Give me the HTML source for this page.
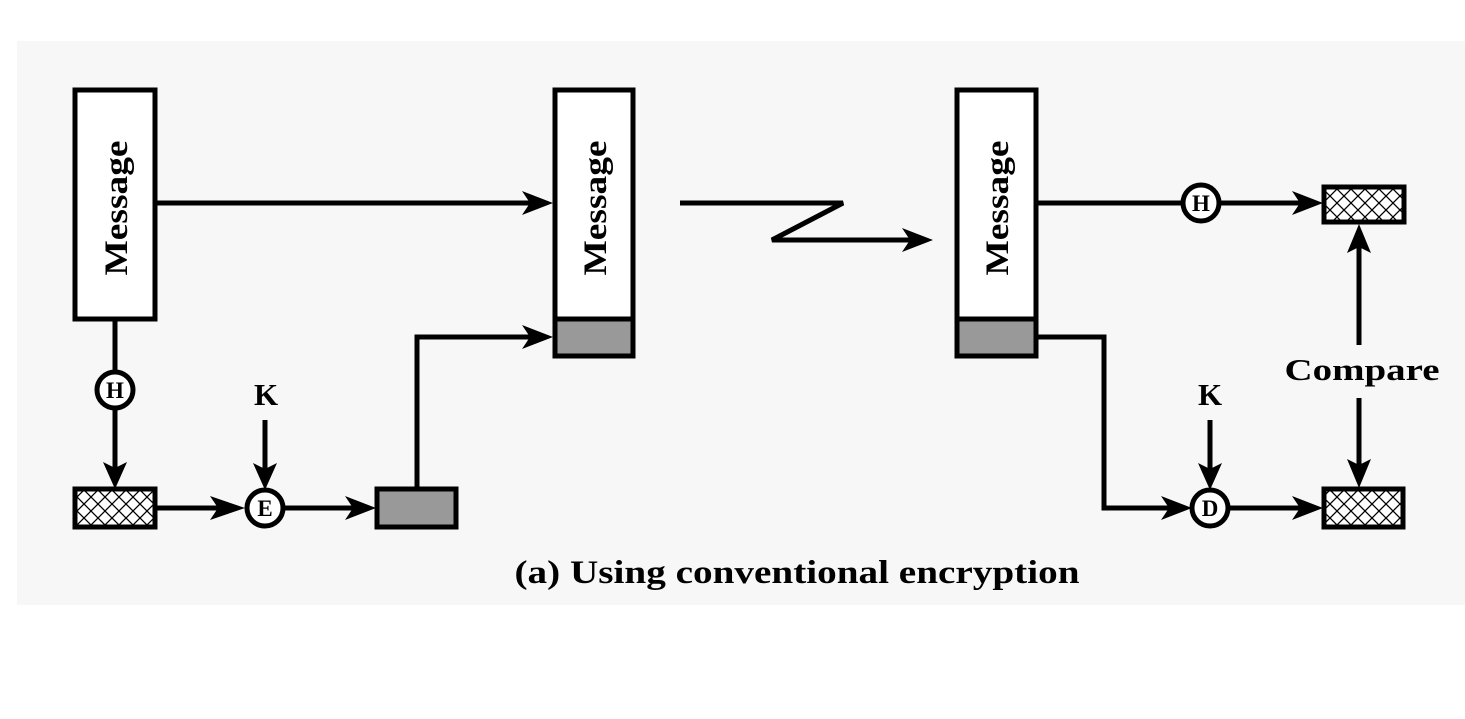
<!DOCTYPE html>
<html><head><style>
body{margin:0;background:#fff;width:1465px;height:714px;overflow:hidden}
text{font-family:"Liberation Serif",serif;font-weight:bold;fill:#000}
</style></head><body>
<svg width="1465" height="714" viewBox="0 0 1465 714" xmlns="http://www.w3.org/2000/svg">
<defs>
<pattern id="hx" width="14" height="14" patternUnits="userSpaceOnUse">
<rect width="14" height="14" fill="#fff"/>
<path d="M0 0L14 14M14 0L0 14" stroke="#000" stroke-width="1.3"/>
</pattern>
</defs>
<rect x="17" y="41" width="1448" height="564" fill="#f7f7f7"/>
<g stroke="#000" stroke-width="5" fill="none">
<rect x="75" y="90" width="80" height="229" fill="#fff"/>
<line x1="155" y1="203" x2="530" y2="203"/>
<line x1="115" y1="319" x2="115" y2="373"/>
<line x1="115" y1="407" x2="115" y2="470"/>
<circle cx="115" cy="390" r="18" fill="#fff"/>
<rect x="75" y="489" width="80" height="38" fill="url(#hx)"/>
<line x1="155" y1="508" x2="225" y2="508"/>
<line x1="265" y1="420" x2="265" y2="470"/>
<circle cx="265" cy="508" r="18" fill="#fff"/>
<line x1="283" y1="508" x2="355" y2="508"/>
<rect x="377" y="489" width="79" height="38" fill="#999"/>
<polyline points="417,489 417,337 530,337"/>
<rect x="555" y="90" width="78" height="229" fill="#fff"/>
<rect x="555" y="319" width="78" height="37" fill="#999"/>
<polyline points="680,203 843,203 772,240 912,240"/>
<rect x="957" y="90" width="79" height="229" fill="#fff"/>
<rect x="957" y="319" width="79" height="37" fill="#999"/>
<line x1="1036" y1="203" x2="1183" y2="203"/>
<circle cx="1201" cy="203" r="18" fill="#fff"/>
<line x1="1219" y1="203" x2="1302" y2="203"/>
<rect x="1324" y="187" width="80" height="35" fill="url(#hx)"/>
<polyline points="1036,337 1104,337 1104,508 1175,508"/>
<line x1="1210" y1="420" x2="1210" y2="470"/>
<circle cx="1210" cy="508" r="18" fill="#fff"/>
<line x1="1228" y1="508" x2="1302" y2="508"/>
<rect x="1324" y="489" width="79" height="38" fill="url(#hx)"/>
<line x1="1359" y1="345" x2="1359" y2="245"/>
<line x1="1359" y1="398" x2="1359" y2="468"/>
</g>
<g fill="#000">
<polygon points="115,489 103,462 115,468 127,462"/>
<polygon points="245,508 210,496 218,508 210,520"/>
<polygon points="265,490 253,463 265,469 277,463"/>
<polygon points="376,508 345,496 353,508 345,520"/>
<polygon points="553,203 522,191 530,203 522,215"/>
<polygon points="553,337 522,325 530,337 522,349"/>
<polygon points="933,240 902,228 910,240 902,252"/>
<polygon points="1323,203 1292,191 1300,203 1292,215"/>
<polygon points="1192,508 1161,496 1169,508 1161,520"/>
<polygon points="1210,490 1198,463 1210,469 1222,463"/>
<polygon points="1323,508 1292,496 1300,508 1292,520"/>
<polygon points="1359,224 1347,253 1359,247 1371,253"/>
<polygon points="1359,488 1347,459 1359,465 1371,459"/>
</g>
<text transform="translate(127,208) rotate(-90)" text-anchor="middle" font-size="33" textLength="135" lengthAdjust="spacingAndGlyphs">Message</text>
<text transform="translate(606,208) rotate(-90)" text-anchor="middle" font-size="33" textLength="135" lengthAdjust="spacingAndGlyphs">Message</text>
<text transform="translate(1008,208) rotate(-90)" text-anchor="middle" font-size="33" textLength="135" lengthAdjust="spacingAndGlyphs">Message</text>
<text x="115" y="398" text-anchor="middle" font-size="23">H</text>
<text x="265" y="516" text-anchor="middle" font-size="23">E</text>
<text x="1201" y="211" text-anchor="middle" font-size="23">H</text>
<text x="1210" y="516" text-anchor="middle" font-size="23">D</text>
<text x="266" y="405" text-anchor="middle" font-size="31">K</text>
<text x="1210" y="405" text-anchor="middle" font-size="31">K</text>
<text x="1362" y="380" text-anchor="middle" font-size="31" textLength="155" lengthAdjust="spacingAndGlyphs">Compare</text>
<text x="797" y="583" text-anchor="middle" font-size="33" textLength="565" lengthAdjust="spacingAndGlyphs">(a) Using conventional encryption</text>
</svg>
</body></html>
